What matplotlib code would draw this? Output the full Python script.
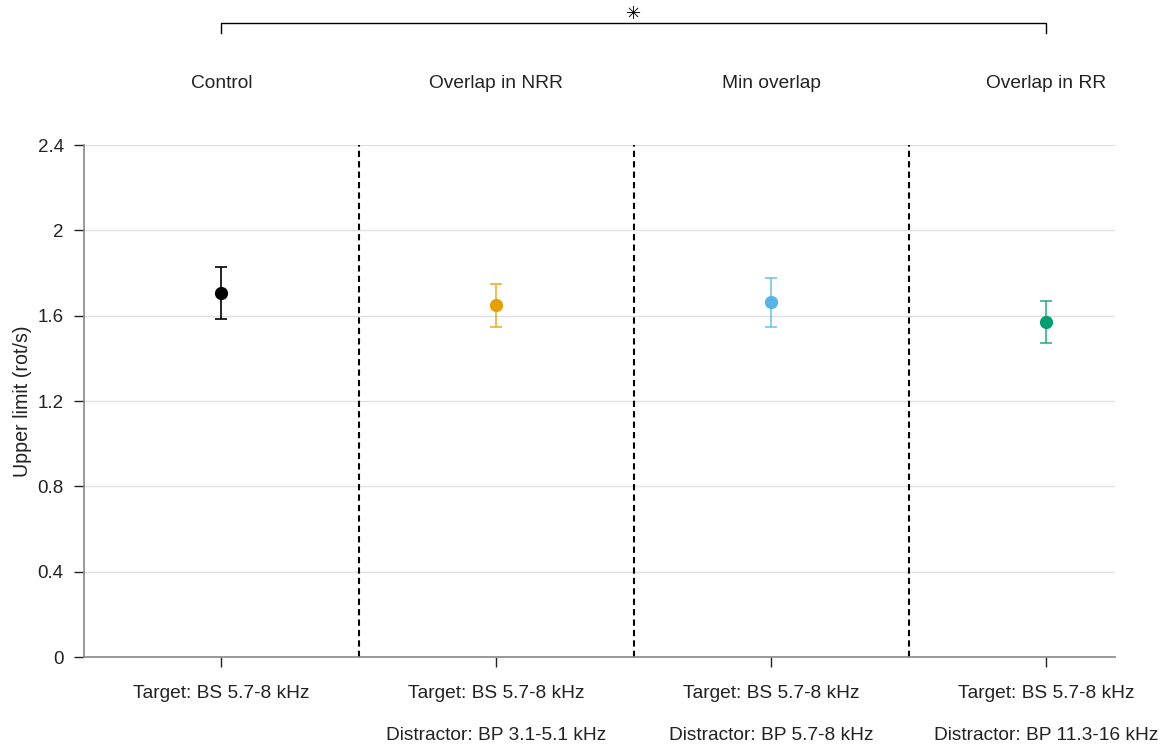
import matplotlib
matplotlib.use("Agg")
import matplotlib.pyplot as plt
import matplotlib.transforms as mtransforms

plt.rcParams['font.family'] = ['Liberation Sans', 'DejaVu Sans']

conditions = ["Control", "Overlap in NRR", "Min overlap", "Overlap in RR"]
target_labels = ["Target: BS 5.7-8 kHz"] * 4
distractor_labels = ["", "Distractor: BP 3.1-5.1 kHz",
                     "Distractor: BP 5.7-8 kHz", "Distractor: BP 11.3-16 kHz"]
means = [1.706, 1.650, 1.663, 1.570]
err_low = [0.121, 0.102, 0.116, 0.098]
err_high = [0.122, 0.099, 0.114, 0.099]
colors = ["#000000", "#E69F00", "#56B4E9", "#009E73"]
yticks = [0, 0.4, 0.8, 1.2, 1.6, 2, 2.4]
ytick_labels = ["0", "0.4", "0.8", "1.2", "1.6", "2", "2.4"]

FS = 13.8
TC = '#222222'

fig = plt.figure(figsize=(11.63, 7.47), dpi=100)
ax = fig.add_axes([84/1163, 1-657/747, (1115-84)/1163, (657-145)/747])

xs = list(range(len(conditions)))
for x, m, lo, hi, c in zip(xs, means, err_low, err_high, colors):
    ax.errorbar(x, m, yerr=[[lo], [hi]], fmt='none', ecolor=c, elinewidth=1.2,
                capsize=4.5, capthick=1.2, alpha=0.8 if c != "#000000" else 1, zorder=3)
    ax.plot(x, m, 'o', color=c, markersize=9.5, markeredgewidth=0, zorder=4)

for b in [0.5, 1.5, 2.5]:
    ax.axvline(b, color='black', linestyle=(0, (3, 2)), linewidth=1.5, zorder=2)

ax.set_xlim(-0.5, 3.25)
ax.set_ylim(0, 2.4)
ax.set_yticks(yticks)
ax.set_yticklabels(ytick_labels)
ax.yaxis.grid(True, color='#e0e0e0', linewidth=1)
ax.set_axisbelow(True)
ax.set_xticks(xs)
ax.set_xticklabels([])
ax.tick_params(axis='both', direction='out', length=7.5, width=1, color=TC,
               labelsize=FS - 0.3, labelcolor=TC)
ax.tick_params(axis='y', pad=7)
for s in ['top', 'right']:
    ax.spines[s].set_visible(False)
for s in ['left', 'bottom']:
    ax.spines[s].set_color('#888888')
    ax.spines[s].set_linewidth(1.2)
ax.set_ylabel("Upper limit (rot/s)", fontsize=FS + 0.3, color=TC, labelpad=4)

bt = mtransforms.blended_transform_factory(ax.transData, fig.transFigure)

# condition titles above, and two-line labels below
for x, t, tl, dl in zip(xs, conditions, target_labels, distractor_labels):
    ax.text(x, 1 - 84/747, t, transform=bt, ha='center', va='center', fontsize=FS, color=TC)
    ax.text(x, 1 - 693/747, tl, transform=bt, ha='center', va='center', fontsize=FS, color=TC)
    if dl:
        ax.text(x, 1 - 735/747, dl, transform=bt, ha='center', va='center', fontsize=FS, color=TC)

# significance bracket
yb = 1 - 23/747
yt = 1 - 33/747
ax.plot([0, 0, 3, 3], [yt, yb, yb, yt], color='black', linewidth=1, transform=bt, clip_on=False)
ax.text(1.5, 1 - 14/747, "\u2733", transform=bt, ha='center', va='center', fontsize=13,
        family=['DejaVu Sans'])

fig.savefig("out.png", dpi=100)
